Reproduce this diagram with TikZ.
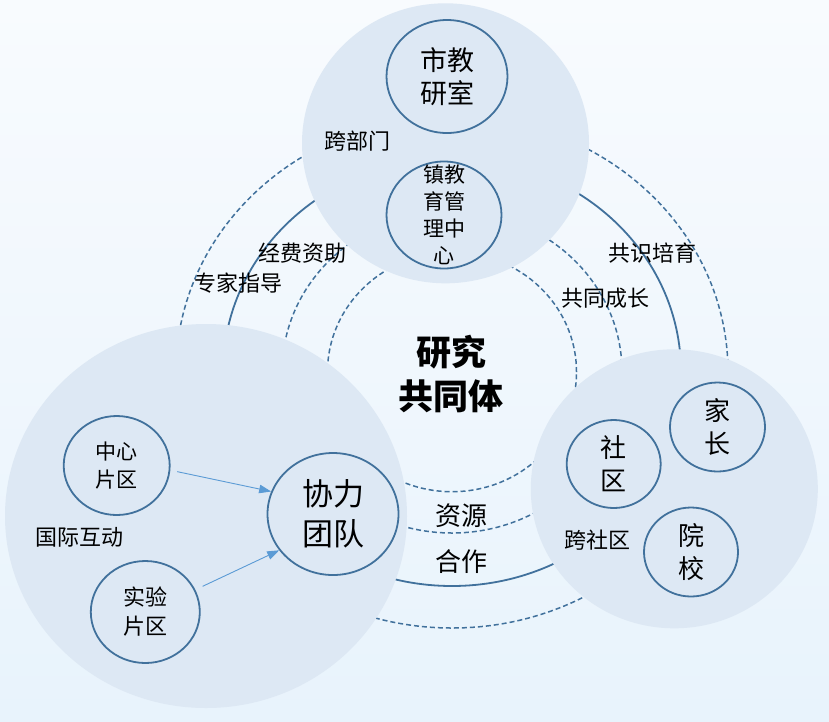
\documentclass[tikz,border=0pt]{standalone}
\usepackage{fontspec}
\newfontfamily\cjk{Noto Sans CJK SC}
\usetikzlibrary{shapes.geometric}
\usetikzlibrary{arrows.meta}
\definecolor{bgtop}{HTML}{F8FBFE}
\definecolor{bgbot}{HTML}{E8F3FC}
\definecolor{discfill}{HTML}{DDE8F4}
\definecolor{ringblue}{HTML}{41719C}
\definecolor{arrowblue}{HTML}{5B9BD5}

\begin{document}
\begin{tikzpicture}[x=1pt,y=-1pt,font=\cjk,
    ringdash/.style={draw=ringblue,line width=1.5pt,dash pattern=on 5pt off 3pt},
    ringline/.style={draw=ringblue,line width=1.8pt},
    disc/.style={ellipse,fill=discfill,inner sep=0pt},
    unit/.style={ellipse,draw=ringblue,line width=1.8pt,fill=discfill,inner sep=0pt},
    txt/.style={align=center,inner sep=0pt},
    tag/.style={inner sep=0pt,font=\cjk\fontsize{22}{26}\selectfont},
    flow/.style={draw=arrowblue,line width=0.9pt,-{Triangle[length=12pt,width=8.5pt]}}]
  \shade[top color=bgtop,bottom color=bgbot] (0,0) rectangle (829,721);% Background
  \coordinate (O) at (452,372);
  \draw[ringdash] (O) ellipse [x radius=124.5pt,y radius=119.7pt];% Inner Ring
  \draw[ringdash] (O) ellipse [x radius=170pt,y radius=161pt];
  \draw[ringline] (O) ellipse [x radius=229pt,y radius=214pt];
  \draw[ringdash] (O) ellipse [x radius=276pt,y radius=256pt];% Outer Ring
  \node[disc,minimum width=287pt,minimum height=280pt] (top) at (445.5,143.3) {};% Top Disc
  \node[disc,minimum width=402pt,minimum height=384pt] (left) at (206,516) {};% Left Disc
  \node[disc,minimum width=287pt,minimum height=279pt] (right) at (674.3,488.8) {};% Right Disc
  % top group
  \node[unit,minimum width=121pt,minimum height=113pt] (sjy) at (447,76.5) {};
  \node[txt,font=\cjk\fontsize{27}{33}\selectfont] at (sjy) {市教\\研室};
  \node[unit,minimum width=115pt,minimum height=107pt] (zjy) at (444,215) {};
  \node[txt,font=\cjk\fontsize{21}{27}\selectfont] at (zjy) {镇教\\育管\\理中\\心};
  \node[tag] (kbm) at (357.5,141) {跨部门};
  % left group
  \node[unit,minimum width=106pt,minimum height=99pt] (zxpq) at (116.7,465.5) {};
  \node[txt,font=\cjk\fontsize{21}{28}\selectfont] at (zxpq) {中心\\片区};
  \node[unit,minimum width=109pt,minimum height=102pt] (sypq) at (145.3,612) {};
  \node[txt,font=\cjk\fontsize{22}{29}\selectfont] at (sypq) {实验\\片区};
  \node[unit,minimum width=131pt,minimum height=122pt] (xltd) at (333,514) {};
  \node[txt,font=\cjk\fontsize{31}{40}\selectfont] at (xltd) {协力\\团队};
  \node[tag] (gjhd) at (79.5,537.5) {国际互动};
  \draw[flow,shorten <=7pt] (zxpq.-5) -- (xltd.160);
  \draw[flow,shorten <=8pt] (sypq.24) -- (xltd.214);
  % right group
  \node[unit,minimum width=94pt,minimum height=88pt] (sq) at (613.7,464) {};
  \node[txt,font=\cjk\fontsize{26}{33}\selectfont] at (sq) {社\\区};
  \node[unit,minimum width=95pt,minimum height=89pt] (jz) at (717.5,427) {};
  \node[txt,font=\cjk\fontsize{26}{33}\selectfont] at (jz) {家\\长};
  \node[unit,minimum width=94pt,minimum height=89pt] (yx) at (691,552) {};
  \node[txt,font=\cjk\fontsize{26}{33}\selectfont] at (yx) {院\\校};
  \node[tag] (ksq) at (597.5,540) {跨社区};
  % ring labels
  \node[tag] (jfzz) at (302.5,253) {经费资助};
  \node[tag] (zjzd) at (238,283) {专家指导};
  \node[tag] (gspy) at (652.5,253) {共识培育};
  \node[tag] (gtcz) at (605,298) {共同成长};
  \node[tag,font=\cjk\fontsize{26}{30}\selectfont] (zy) at (461,516) {资源};
  \node[tag,font=\cjk\fontsize{26}{30}\selectfont] (hz) at (461,562) {合作};
  \node[txt,font=\cjk\bfseries\fontsize{35}{44}\selectfont] (yjgtt) at (451,374) {研究\\共同体};
\end{tikzpicture}
\end{document}
